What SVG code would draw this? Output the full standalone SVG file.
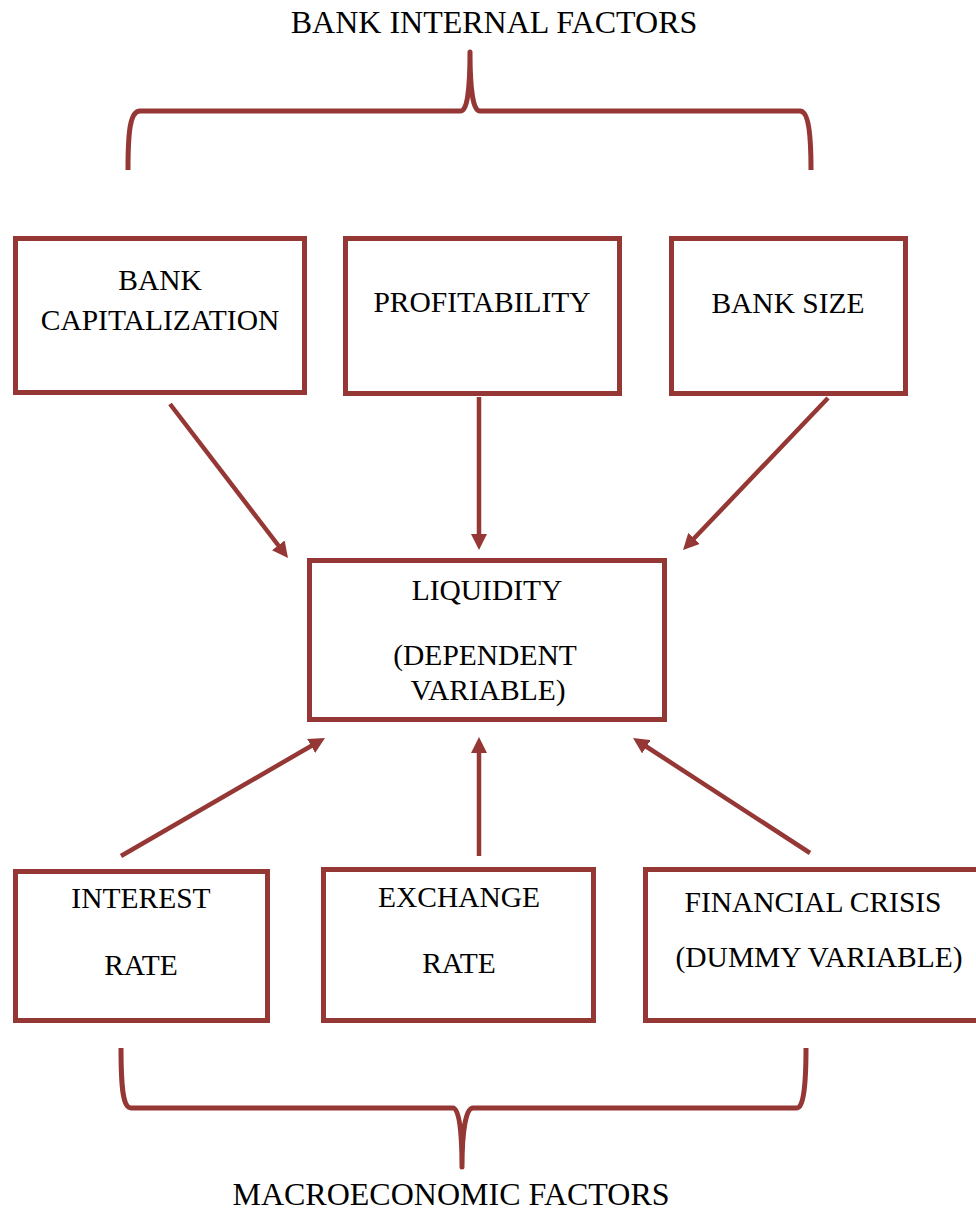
<svg xmlns="http://www.w3.org/2000/svg" width="976" height="1211" viewBox="0 0 976 1211">
<style>
.box{fill:#fff;stroke:#953735;stroke-width:5}
.lbl{font-family:"Liberation Serif","Times New Roman",serif;font-size:29.5px;fill:#000;text-anchor:middle}
.ttl{font-family:"Liberation Serif","Times New Roman",serif;font-size:32px;fill:#000;text-anchor:middle}
.brace{fill:none;stroke:#953735;stroke-width:5;stroke-linejoin:round}
.arr{stroke:#953735;stroke-width:4.5;fill:none;marker-end:url(#ah)}
</style>
<defs>
<marker id="ah" viewBox="0 0 16 16" refX="4" refY="8" markerWidth="16" markerHeight="16" markerUnits="userSpaceOnUse" orient="auto">
<path d="M0,0 L16,8 L0,16 z" fill="#953735"/>
</marker>
</defs>
<rect width="976" height="1211" fill="#fff"/>
<g id="title-top">
<text class="ttl" x="494" y="33">BANK INTERNAL FACTORS</text>
<path class="brace" d="M128,170 C128,132 130,111 140,111 L461,111 C467,111 470,90 470,52 C470,90 473,111 480,111 L800,111 C808,111 811,132 811,170"/>
</g>
<g id="title-bottom">
<text class="ttl" x="451" y="1205">MACROECONOMIC FACTORS</text>
<path class="brace" d="M121,1048 C121,1088 123,1108 131,1108 L453,1108 C459,1108 462,1130 462,1167 C462,1130 466,1108 473,1108 L797,1108 C803,1108 806,1088 806,1048"/>
</g>
<g id="bank-capitalization">
<rect class="box" x="15.5" y="238.5" width="289" height="154"/>
<text class="lbl" x="160" y="290">BANK</text>
<text class="lbl" x="160" y="330">CAPITALIZATION</text>
</g>
<g id="profitability">
<rect class="box" x="345.5" y="238.5" width="274" height="155"/>
<text class="lbl" x="482" y="312">PROFITABILITY</text>
</g>
<g id="bank-size">
<rect class="box" x="671.5" y="238.5" width="234" height="155"/>
<text class="lbl" x="788" y="313">BANK SIZE</text>
</g>
<g id="liquidity">
<rect class="box" x="309.5" y="560.5" width="355" height="159"/>
<text class="lbl" x="487" y="600">LIQUIDITY</text>
<text class="lbl" x="485" y="665">(DEPENDENT</text>
<text class="lbl" x="488" y="700">VARIABLE)</text>
</g>
<g id="interest-rate">
<rect class="box" x="15.5" y="871.5" width="252" height="149"/>
<text class="lbl" x="141" y="908">INTEREST</text>
<text class="lbl" x="141" y="975">RATE</text>
</g>
<g id="exchange-rate">
<rect class="box" x="323.5" y="869.5" width="270" height="151"/>
<text class="lbl" x="459" y="907">EXCHANGE</text>
<text class="lbl" x="459" y="973">RATE</text>
</g>
<g id="financial-crisis">
<rect class="box" x="645.5" y="869.5" width="340" height="151"/>
<text class="lbl" x="813" y="912">FINANCIAL CRISIS</text>
<text class="lbl" x="819" y="967">(DUMMY VARIABLE)</text>
</g>
<g id="connectors">
<line class="arr" x1="170" y1="404" x2="280.7" y2="548.5"/>
<line class="arr" x1="479" y1="397" x2="479" y2="538"/>
<line class="arr" x1="828" y1="398" x2="691.3" y2="541.3"/>
<line class="arr" x1="121" y1="856" x2="314.6" y2="744"/>
<line class="arr" x1="479" y1="856" x2="479" y2="749"/>
<line class="arr" x1="810" y1="853" x2="643.1" y2="744.5"/>
</g>
</svg>
